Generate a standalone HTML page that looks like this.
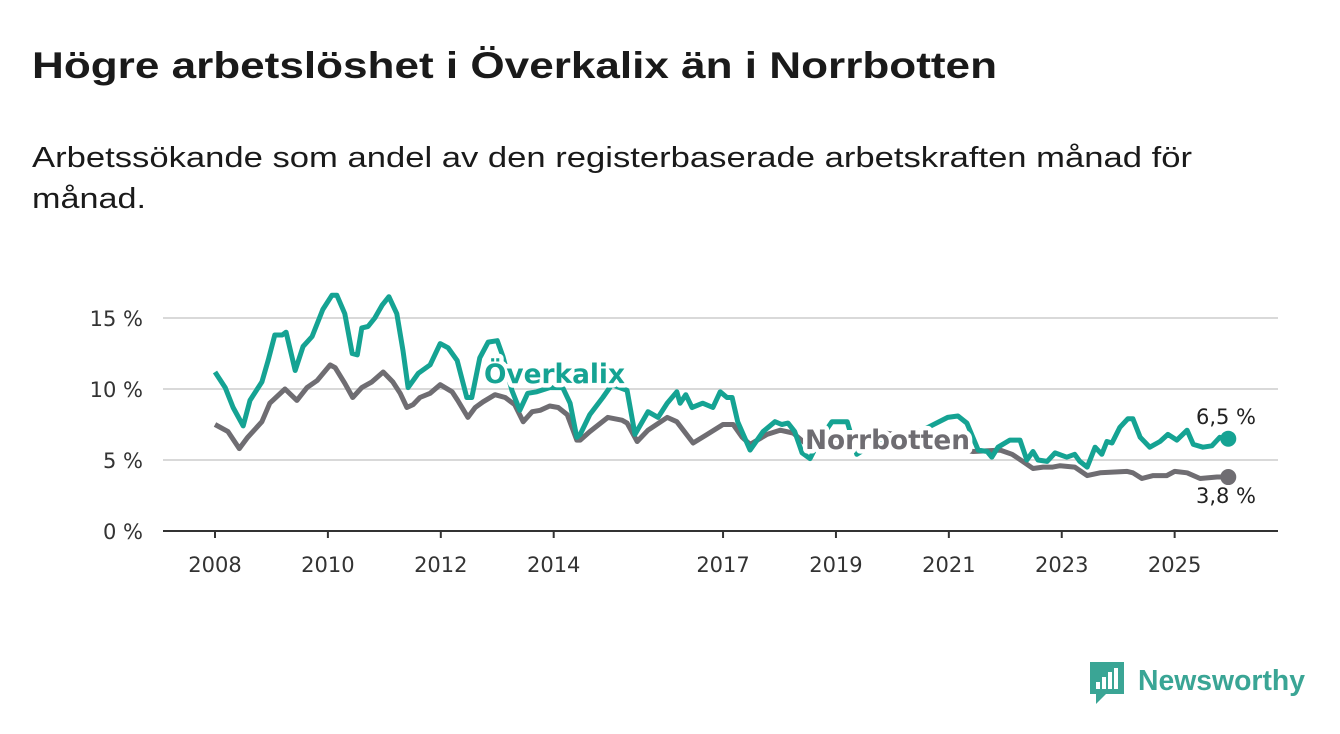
<!DOCTYPE html>
<html><head><meta charset="utf-8"><style>
html,body{margin:0;padding:0;background:#fff;width:1340px;height:734px;overflow:hidden;font-family:"DejaVu Sans","Liberation Sans",sans-serif;color:#1a1a1a}
svg{position:absolute;left:0;top:0}
</style></head><body>
<svg id="chart" width="1340" height="734">
<text x="32" y="78" font-size="37" font-weight="bold" fill="#1a1a1a" textLength="965" lengthAdjust="spacingAndGlyphs" font-family="Liberation Sans, sans-serif">Högre arbetslöshet i Överkalix än i Norrbotten</text>
<text x="32" y="167" font-size="29" fill="#1a1a1a" textLength="1160" lengthAdjust="spacingAndGlyphs" font-family="Liberation Sans, sans-serif">Arbetssökande som andel av den registerbaserade arbetskraften månad för</text>
<text x="32" y="208" font-size="29" fill="#1a1a1a" textLength="114" lengthAdjust="spacingAndGlyphs" font-family="Liberation Sans, sans-serif">månad.</text>
</svg>
<script>
const yTicks=[0,5,10,15];
const yTickLabels=["0 %","5 %","10 %","15 %"];
const xTicks=[2008,2010,2012,2014,2017,2019,2021,2023,2025];
const okYears=[0,0.18,0.32,0.5,0.62,0.83,0.94,1.06,1.19,1.26,1.42,1.56,1.72,1.91,2.07,2.16,2.3,2.43,2.52,2.6,2.71,2.83,2.96,3.08,3.22,3.33,3.42,3.6,3.81,3.99,4.13,4.29,4.46,4.55,4.69,4.84,5.0,5.1,5.26,5.4,5.54,5.7,5.93,6.16,6.29,6.41,6.47,6.64,6.87,7.03,7.3,7.44,7.67,7.85,8.01,8.18,8.24,8.34,8.45,8.64,8.82,8.95,9.07,9.16,9.26,9.48,9.71,9.92,10.04,10.15,10.27,10.4,10.54,10.72,10.93,11.2,11.37,11.69,12.13,12.58,12.98,13.16,13.32,13.52,13.68,13.76,13.87,14.08,14.26,14.38,14.49,14.58,14.74,14.88,15.09,15.23,15.32,15.45,15.59,15.71,15.8,15.89,16.03,16.17,16.26,16.39,16.56,16.74,16.88,17.04,17.22,17.33,17.5,17.66,17.8,17.95];
const okValues=[11.2,10.1,8.7,7.4,9.2,10.5,12.0,13.8,13.8,14.0,11.3,13.0,13.7,15.6,16.6,16.6,15.3,12.5,12.4,14.3,14.4,15.0,15.9,16.5,15.3,12.7,10.1,11.1,11.7,13.2,12.9,12.0,9.4,9.4,12.2,13.3,13.4,12.3,9.9,8.5,9.7,9.8,10.1,10.1,9.0,6.6,6.8,8.2,9.4,10.3,9.9,6.8,8.4,8.0,9.0,9.8,9.0,9.6,8.7,9.0,8.7,9.8,9.4,9.4,7.7,5.7,7.0,7.7,7.5,7.6,7.0,5.5,5.1,6.5,7.7,7.7,5.4,6.2,6.5,7.2,8.0,8.1,7.6,5.7,5.6,5.2,5.9,6.4,6.4,5.0,5.6,5.0,4.9,5.5,5.2,5.4,4.9,4.5,5.9,5.4,6.3,6.2,7.3,7.9,7.9,6.6,5.9,6.3,6.8,6.4,7.1,6.1,5.9,6.0,6.6,6.5];
const nbYears=[0,0.23,0.43,0.58,0.83,0.97,1.24,1.45,1.63,1.81,2.04,2.13,2.3,2.44,2.6,2.78,2.98,3.15,3.28,3.4,3.51,3.63,3.81,3.99,4.2,4.3,4.48,4.61,4.75,4.96,5.14,5.31,5.46,5.62,5.76,5.93,6.08,6.24,6.41,6.47,6.64,6.96,7.21,7.3,7.48,7.67,8.01,8.18,8.47,8.72,9.0,9.18,9.34,9.48,9.78,10.01,10.24,10.45,10.72,11.07,11.43,11.69,12.05,12.4,12.75,13.11,13.43,13.91,14.12,14.31,14.49,14.67,14.84,14.97,15.23,15.45,15.68,16.16,16.26,16.42,16.62,16.86,17.0,17.22,17.45,17.75,17.95];
const nbValues=[7.5,7.0,5.8,6.6,7.7,9.0,10.0,9.2,10.1,10.6,11.7,11.5,10.4,9.4,10.1,10.5,11.2,10.5,9.7,8.7,8.9,9.4,9.7,10.3,9.8,9.2,8.0,8.7,9.1,9.6,9.4,8.9,7.7,8.4,8.5,8.8,8.7,8.2,6.4,6.4,7.0,8.0,7.8,7.6,6.3,7.1,8.0,7.7,6.2,6.8,7.5,7.5,6.6,6.1,6.8,7.1,6.9,6.2,5.9,6.2,6.6,7.0,6.8,6.2,6.0,5.8,5.6,5.7,5.4,4.9,4.4,4.5,4.5,4.6,4.5,3.9,4.1,4.2,4.1,3.7,3.9,3.9,4.2,4.1,3.7,3.8,3.8];
const NS="http://www.w3.org/2000/svg";
const svg=document.getElementById('chart');
const xS=yr=>215+(yr-2008)*56.45;
const yS=v=>531-v*14.2;
function mk(t,a,p){const e=document.createElementNS(NS,t);for(const k in a)e.setAttribute(k,a[k]);(p||svg).appendChild(e);return e;}
yTicks.forEach((t,i)=>{
 if(t>0){const g=mk('line',{x1:163,x2:1278,y1:yS(t),y2:yS(t),stroke:'#d9d9d9','stroke-width':2});
 
 }
 const l=mk('text',{x:143,y:yS(t)+8,'text-anchor':'end','font-size':21,fill:'#333'});
 l.textContent=yTickLabels[i];
 
 
});
const ax=mk('line',{x1:163,x2:1278,y1:531,y2:531,stroke:'#333','stroke-width':2});


xTicks.forEach(t=>{
 const tk=mk('line',{x1:xS(t),x2:xS(t),y1:531,y2:538,stroke:'#333','stroke-width':2});
 
 
 const l=mk('text',{x:xS(t),y:572,'text-anchor':'middle','font-size':21,fill:'#333'});
 l.textContent=t;
 
 
});
function path(ys,vs){return ys.map((y,i)=>(i?'L':'M')+xS(2008+y).toFixed(1)+','+yS(vs[i]).toFixed(1)).join('');}
const nb=mk('path',{d:path(nbYears,nbValues),fill:'none',stroke:'#6f6d72','stroke-width':5,'stroke-linejoin':'round'});


const ok=mk('path',{d:path(okYears,okValues),fill:'none',stroke:'#15a393','stroke-width':5,'stroke-linejoin':'round'});


const d1=mk('circle',{cx:xS(2008+okYears[okYears.length-1]),cy:yS(okValues[okValues.length-1]),r:8,fill:'#15a393'});


const d2=mk('circle',{cx:xS(2008+nbYears[nbYears.length-1]),cy:yS(nbValues[nbValues.length-1]),r:8,fill:'#6f6d72'});


function lab(txt,x,y,col,name,bold,anchor,len){
 const a={x:x,y:y,'font-size':bold?27:21,'font-weight':bold?'bold':'normal',fill:col,'text-anchor':anchor||'start',stroke:'#fff','stroke-width':bold?9:5,'paint-order':'stroke','stroke-linejoin':'round'};
 if(len){a.textLength=len;a.lengthAdjust='spacingAndGlyphs';}
 const t=mk('text',a);
 t.textContent=txt;
 
 
}
lab('Överkalix',484,383,'#15a393','overkalix-label',true,null,141);
lab('Norrbotten',805,449,'#6f6d72','norrbotten-label',true,null,165);
lab('6,5 %',1256,424,'#222','overkalix-end-value',false,'end');
lab('3,8 %',1256,503,'#222','norrbotten-end-value',false,'end');
const lg=mk('g',{});


mk('path',{d:'M1090,662 h34 v32 h-18 l-10,10 v-10 h-6 z',fill:'#3aa595'},lg);
[[1096,682,4],[1102,677,4],[1108,672,4],[1114,668,4]].forEach(b=>mk('rect',{x:b[0],y:b[1],width:b[2],height:689-b[1],fill:'#fff'},lg));
const lt=mk('text',{x:1138,y:690,'font-size':29,'font-weight':'bold',fill:'#3aa595','font-family':'Liberation Sans, sans-serif',textLength:167,lengthAdjust:'spacingAndGlyphs'},lg);
lt.textContent='Newsworthy';
</script>
</body></html>
